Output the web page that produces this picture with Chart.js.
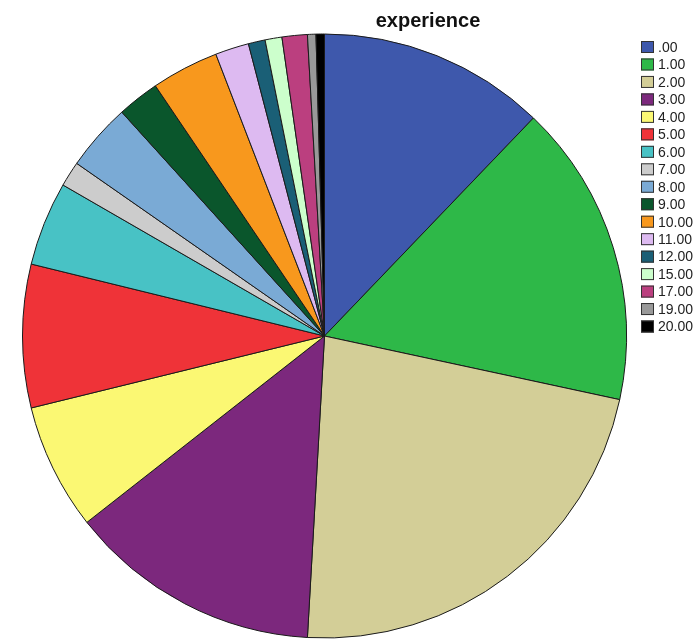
<!DOCTYPE html>
<html>
<head>
<meta charset="utf-8">
<title>experience</title>
<script src="https://cdn.jsdelivr.net/npm/chart.js@4/dist/chart.umd.min.js"></script>
<style>
html, body { margin: 0; padding: 0; background: #fff; }
#wrap { width: 698px; height: 639px; }
</style>
</head>
<body>
<div id="wrap"><canvas id="pie" width="698" height="639"></canvas></div>
<script>
var labels = ['.00', '1.00', '2.00', '3.00', '4.00', '5.00', '6.00', '7.00', '8.00',
	'9.00', '10.00', '11.00', '12.00', '15.00', '17.00', '19.00', '20.00'];
var counts = [27, 36, 50, 30, 15, 17, 10, 3, 8, 5, 8, 4, 2, 2, 3, 1, 1];
var colors = ['#3e58ac', '#2eb848', '#d3ce97', '#7c287d', '#fbf873', '#ef3338', '#48c2c5',
	'#cccccc', '#7aaad5', '#0a562c', '#f8981d', '#ddbaf1', '#1a5f76', '#ccffcc',
	'#bb3f7f', '#999999', '#000000'];
var title = 'experience';

(function (){

// title and legend sit at fixed spots, drawn after the pie
var sidePlugin = {
	id: 'side',
	afterDraw: function (chart) {
		var ctx = chart.ctx;
		ctx.save();
		ctx.fillStyle = '#111';
		ctx.font = 'bold 20px "Liberation Sans", Arial, sans-serif';
		ctx.textAlign = 'center';
		ctx.textBaseline = 'alphabetic';
		ctx.fillText(title, 428, 27);

		ctx.font = '14px "Liberation Sans", Arial, sans-serif';
		ctx.textAlign = 'left';
		ctx.textBaseline = 'middle';
		var ds = chart.data.datasets[0];
		for (var i = 0, len = chart.data.labels.length; i < len; i++) {
			var y = 47 + i * 17.47;
			ctx.fillStyle = ds.backgroundColor[i];
			ctx.fillRect(641, y - 6, 13, 12);
			ctx.strokeStyle = '#333';
			ctx.lineWidth = 1;
			ctx.strokeRect(641.5, y - 5.5, 12, 11);
			ctx.fillStyle = '#222';
			ctx.fillText(chart.data.labels[i], 658, y + 1);
		}
		ctx.restore();
	}
};

var chart = new Chart(document.getElementById('pie'), {
	type: 'pie',
	data: {
		labels: labels,
		datasets: [{
			data: counts,
			backgroundColor: colors,
			borderColor: '#1a1a1a',
			borderWidth: 1
		}]
	},
	options: {
		responsive: false,
		animation: false,
		events: [],
		layout: {
			padding: { left: 22, right: 71, top: 33, bottom: 0 }
		},
		plugins: {
			legend: { display: false },
			title: { display: false },
			tooltip: { enabled: false }
		}
	},
	plugins: [sidePlugin]
});

}());
</script>
</body>
</html>
